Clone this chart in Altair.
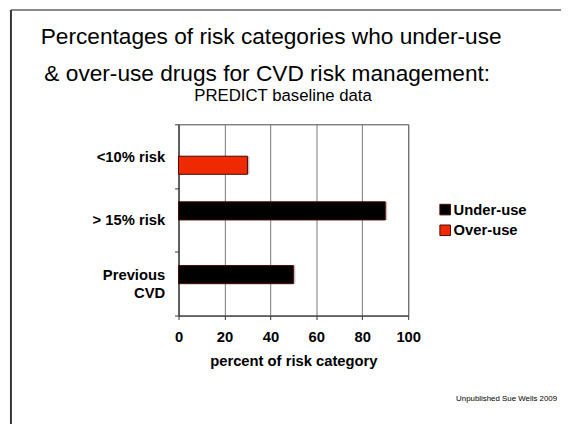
import altair as alt
import pandas as pd

categories = ["<10% risk", "> 15% risk", "Previous CVD"]
series_names = ["Under-use", "Over-use"]
bar_category = ["<10% risk", "> 15% risk", "Previous CVD"]
bar_series = ["Over-use", "Under-use", "Under-use"]
bar_values = [30, 90, 50]
x_ticks = [0, 20, 40, 60, 80, 100]
series_colors = ["#000000", "#f02a00"]

title_lines = ["Percentages of risk categories who under-use",
               "& over-use drugs for CVD risk management:"]
subtitle = "PREDICT baseline data"
x_title = "percent of risk category"
footer = "Unpublished Sue Wells 2009"

FONT = "Liberation Sans, Arial, Helvetica, sans-serif"

df = pd.DataFrame({"category": bar_category, "series": bar_series, "value": bar_values})

W, H = 233, 194

y_enc = alt.Y("category:N", sort=categories,
              scale=alt.Scale(domain=categories, paddingInner=0, paddingOuter=0),
              axis=alt.Axis(title=None, labelFont=FONT, labelFontSize=15, labelFontWeight="bold",
                            labelColor="#000", tickBand="extent", tickSize=4, tickColor="#333",
                            domainColor="#333", labelPadding=10, labelLineHeight=18,
                            labelOffset={"condition": {"test": "datum.value == 'Previous CVD'", "value": -9},
                                         "value": 0},
                            labelExpr="datum.value == 'Previous CVD' ? ['Previous', 'CVD'] : datum.value"))
yoff_enc = alt.YOffset("series:N", scale=alt.Scale(domain=series_names, paddingInner=0, paddingOuter=0.76))
x_enc = alt.X("value:Q", scale=alt.Scale(domain=[0, 100], nice=False),
              axis=alt.Axis(values=x_ticks, title=x_title, titleFont=FONT, titleFontSize=15,
                            titleFontWeight="bold", titleColor="#000", titlePadding=10,
                            labelFont=FONT, labelFontSize=15, labelFontWeight="bold", labelColor="#000",
                            labelPadding=10, labelFlush=False, tickSize=4, tickColor="#333",
                            domainColor="#333", grid=True, gridColor="#777", gridWidth=1))

shadow = alt.Chart(df).mark_bar(color="#b0b0b0", opacity=0.8, xOffset=2, yOffset=2).encode(
    x=x_enc, y=y_enc, yOffset=yoff_enc)

bars = alt.Chart(df).mark_bar(stroke="#4a0800", strokeWidth=1).encode(
    x=x_enc, y=y_enc, yOffset=yoff_enc,
    color=alt.Color("series:N", scale=alt.Scale(domain=series_names, range=series_colors),
                    legend=alt.Legend(title=None, orient="none", legendX=263, legendY=79,
                                      symbolType="square", symbolSize=115, labelFont=FONT,
                                      labelFontSize=15, labelFontWeight="bold", labelColor="#000",
                                      labelOffset=1, rowPadding=5,
                                      symbolStrokeColor="#4a0800", symbolStrokeWidth=1)))

one = pd.DataFrame({"k": [0]})

def text_layer(txt, x, y, size, weight="normal", align="center"):
    return alt.Chart(one).mark_text(font=FONT, fontSize=size, fontWeight=weight, align=align,
                                    baseline="alphabetic", color="#000").encode(
        x=alt.value(x), y=alt.value(y), text=alt.value(txt))

t1 = text_layer(title_lines[0], 94, -81, 23)
t2 = text_layer(title_lines[1], 90, -44, 23)
t3 = text_layer(subtitle, 106, -24, 17)
t4 = text_layer(footer, 384, 281, 8, align="right")

frame_top = alt.Chart(one).mark_rule(color="#666", strokeWidth=1.5).encode(
    x=alt.value(-170), x2=alt.value(400), y=alt.value(-116))
frame_left = alt.Chart(one).mark_rule(color="#333", strokeWidth=2).encode(
    x=alt.value(-170), y=alt.value(-116), y2=alt.value(320))

chart = alt.layer(frame_top, frame_left, shadow, bars, t1, t2, t3, t4).properties(
    width=W, height=H,
    autosize=alt.AutoSizeParams(type="none"),
    padding={"left": 173, "top": 115, "right": 155, "bottom": 107},
    background="white",
).configure_view(stroke="#444", strokeWidth=1)

chart.save("out.html", embed_options={"renderer": "svg", "actions": False})
